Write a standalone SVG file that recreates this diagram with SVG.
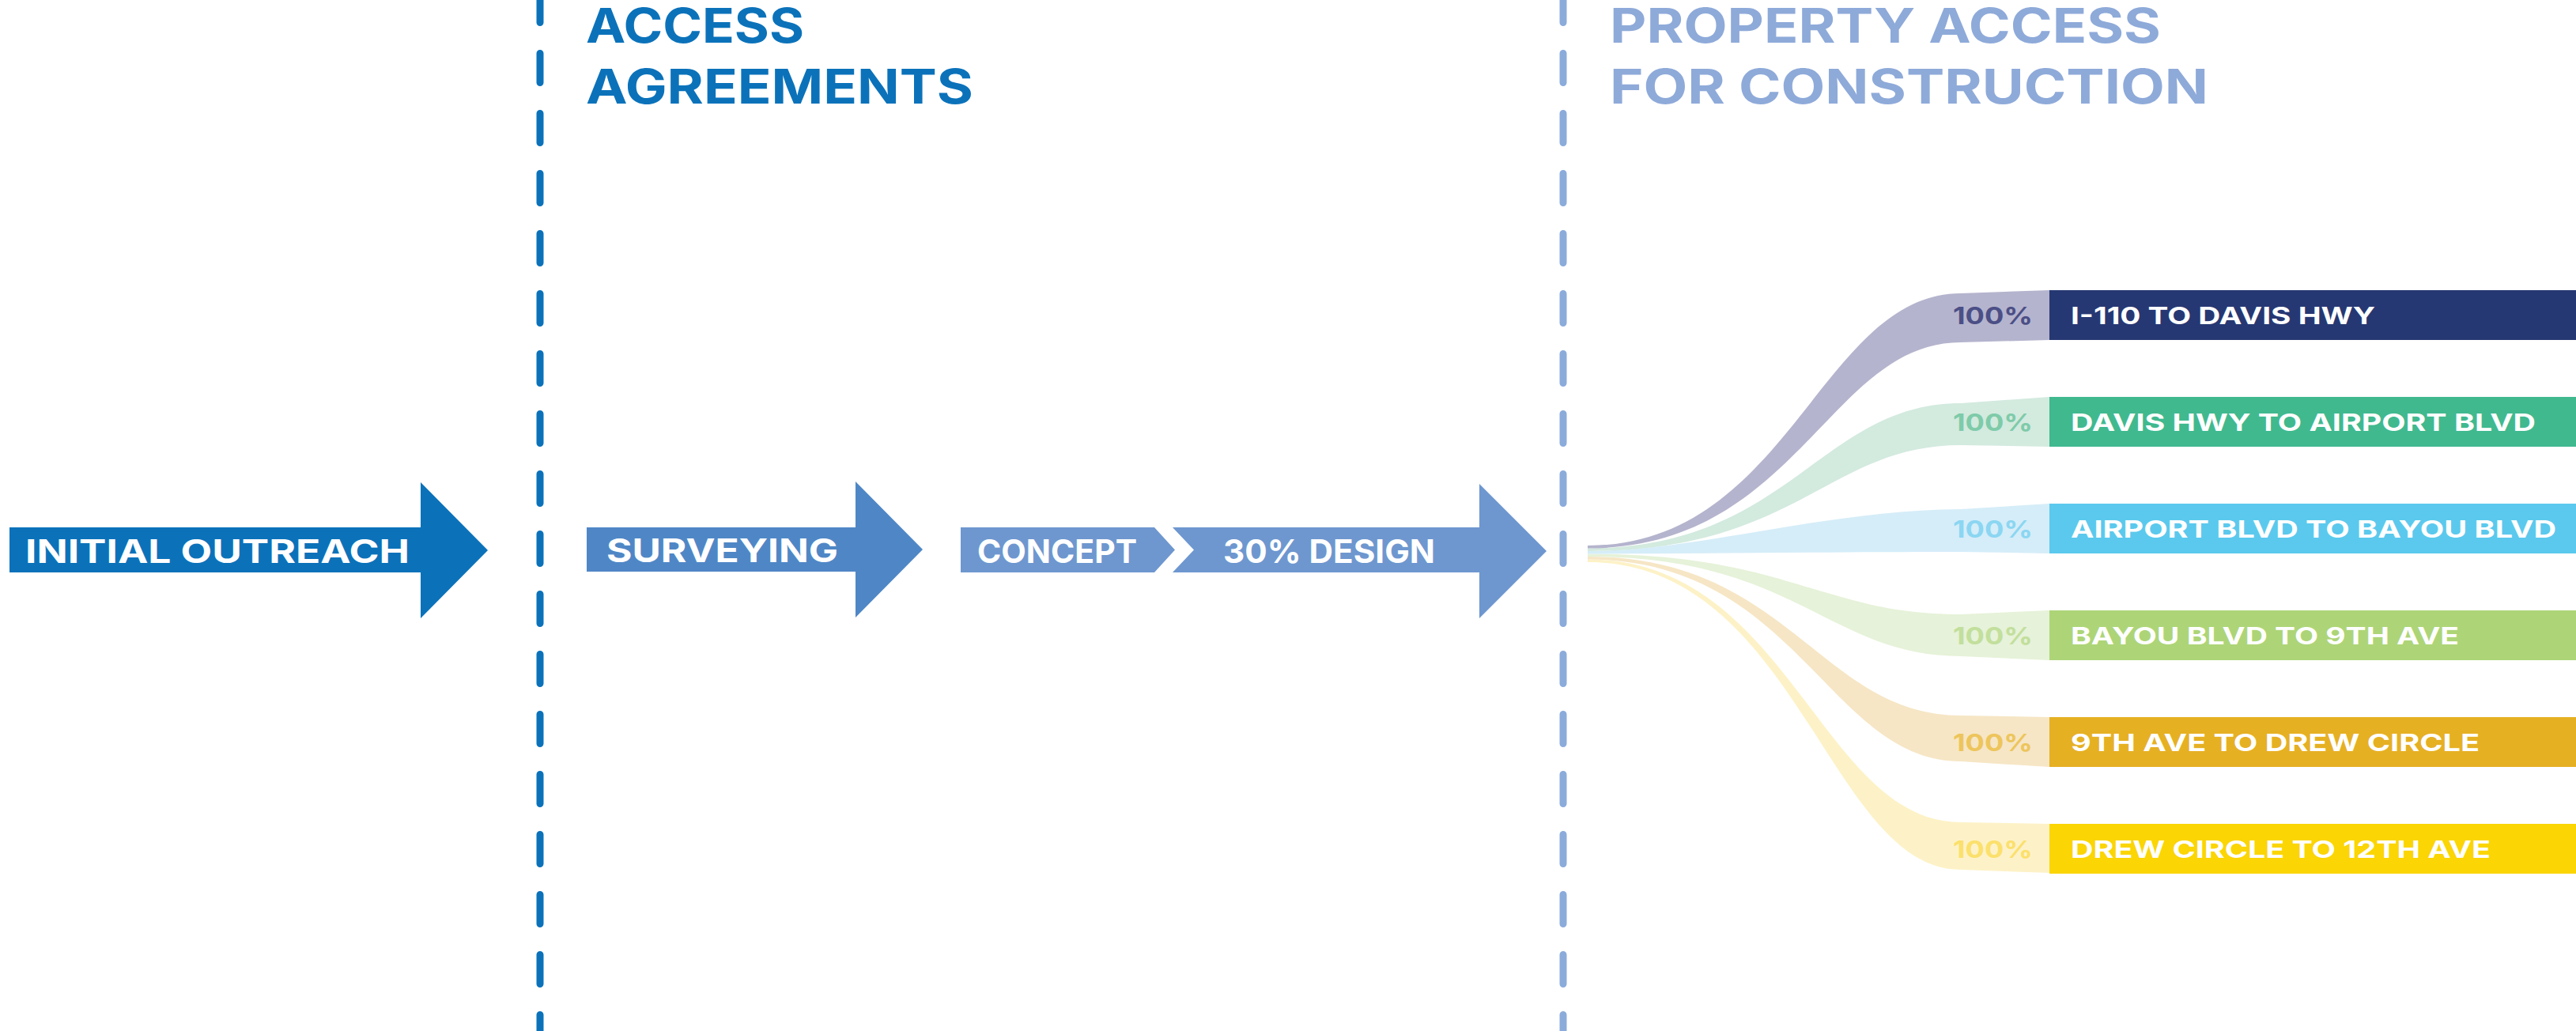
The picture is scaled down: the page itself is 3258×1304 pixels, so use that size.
<svg xmlns="http://www.w3.org/2000/svg" width="3258" height="1304" viewBox="0 0 3258 1304">
<style>
text{font-family:Inter,"Open Sans","Liberation Sans",sans-serif;font-weight:700}
.lbl{fill:#ffffff;font-size:41px}
.ttl{font-size:60px}
.bar{fill:#ffffff;font-size:30px}
.pct{font-size:30px}
.dash{fill:none;stroke-width:9;stroke-linecap:round;stroke-dasharray:37 39}
</style>
<rect width="3258" height="1304" fill="#ffffff"/>
<g id="dividers">
<line class="dash" x1="683" y1="-8.5" x2="683" y2="1320" stroke="#0b72ba"/>
<line class="dash" x1="1977" y1="-8.5" x2="1977" y2="1320" stroke="#8babdb"/>
</g>
<g id="title-access">
<text class="ttl" x="741" y="54" fill="#0b72ba" textLength="276" lengthAdjust="spacingAndGlyphs">ACCESS</text>
<text class="ttl" x="741" y="130.5" fill="#0b72ba" textLength="490" lengthAdjust="spacingAndGlyphs">AGREEMENTS</text>
</g>
<g id="title-property">
<text class="ttl" x="2036" y="54" fill="#8eaad9" textLength="697" lengthAdjust="spacingAndGlyphs">PROPERTY ACCESS</text>
<text class="ttl" x="2036" y="130.5" fill="#8eaad9" textLength="757" lengthAdjust="spacingAndGlyphs">FOR CONSTRUCTION</text>
</g>
<g id="initial-outreach">
<polygon points="12,667 532,667 532,610 617,696 532,782 532,724 12,724" fill="#0b72ba"/>
<text class="lbl" x="32" y="712" textLength="486" lengthAdjust="spacingAndGlyphs">INITIAL OUTREACH</text>
</g>
<g id="surveying">
<polygon points="742,667 1082,667 1082,609 1167,695 1082,781 1082,723 742,723" fill="#4f87c6"/>
<text class="lbl" x="767" y="711" textLength="293" lengthAdjust="spacingAndGlyphs">SURVEYING</text>
</g>
<g id="concept">
<polygon points="1215,667 1460,667 1486,695.5 1460,724 1215,724" fill="#6e97cf"/>
<text class="lbl" x="1236" y="712" textLength="202" lengthAdjust="spacingAndGlyphs">CONCEPT</text>
</g>
<g id="design30">
<polygon points="1483,667 1871,667 1871,612 1956,697 1871,782 1871,724 1483,724 1510,695.5" fill="#6e97cf"/>
<text class="lbl" x="1547" y="712" textLength="268" lengthAdjust="spacingAndGlyphs">30% DESIGN</text>
</g>
<g id="connectors">
<path d="M2008 707.5 C2263 707.5 2303 1040 2480 1040 L2592 1042 L2592 1104 L2480 1100 C2313 1100 2273 711 2008 711 Z" fill="#fdf2c7"/>
<path d="M2008 704 C2263 704 2303 905 2480 905 L2592 907 L2592 970 L2480 963 C2313 963 2273 707.5 2008 707.5 Z" fill="#f6e6c5"/>
<path d="M2008 700.5 C2263 700.5 2303 777 2480 777 L2592 772 L2592 835 L2480 830 C2313 830 2273 704 2008 704 Z" fill="#e6f2d9"/>
<path d="M2008 697 C2150 697 2300 646 2480 644 L2592 637 L2592 700 L2480 698 C2300 698 2150 700.5 2008 700.5 Z" fill="#d5edf8"/>
<path d="M2008 693.5 C2263 693.5 2303 510 2480 510 L2592 502 L2592 565 L2480 563 C2313 563 2273 697 2008 697 Z" fill="#d3eadf"/>
<path d="M2008 690 C2263 690 2303 371 2480 371 L2592 367 L2592 430 L2480 433 C2313 433 2273 693.5 2008 693.5 Z" fill="#b5b4ce"/>
</g>
<g id="seg1">
<rect x="2592" y="367" width="666" height="63" fill="#263873"/>
<text class="pct" x="2470" y="410" fill="#4b4f86" textLength="101" lengthAdjust="spacingAndGlyphs">100%</text>
<text class="bar" x="2619" y="410" textLength="385" lengthAdjust="spacingAndGlyphs">I-110 TO DAVIS HWY</text>
</g>
<g id="seg2">
<rect x="2592" y="502" width="666" height="63" fill="#40b98f"/>
<text class="pct" x="2470" y="545" fill="#7ecba9" textLength="101" lengthAdjust="spacingAndGlyphs">100%</text>
<text class="bar" x="2619" y="545" textLength="588" lengthAdjust="spacingAndGlyphs">DAVIS HWY TO AIRPORT BLVD</text>
</g>
<g id="seg3">
<rect x="2592" y="637" width="666" height="63" fill="#5bc9ed"/>
<text class="pct" x="2470" y="680" fill="#8bd6f2" textLength="101" lengthAdjust="spacingAndGlyphs">100%</text>
<text class="bar" x="2619" y="680" textLength="614" lengthAdjust="spacingAndGlyphs">AIRPORT BLVD TO BAYOU BLVD</text>
</g>
<g id="seg4">
<rect x="2592" y="772" width="666" height="63" fill="#add577"/>
<text class="pct" x="2470" y="815" fill="#c2df9c" textLength="101" lengthAdjust="spacingAndGlyphs">100%</text>
<text class="bar" x="2619" y="815" textLength="491" lengthAdjust="spacingAndGlyphs">BAYOU BLVD TO 9TH AVE</text>
</g>
<g id="seg5">
<rect x="2592" y="907" width="666" height="63" fill="#e6b023"/>
<text class="pct" x="2470" y="950" fill="#edc55c" textLength="101" lengthAdjust="spacingAndGlyphs">100%</text>
<text class="bar" x="2619" y="950" textLength="517" lengthAdjust="spacingAndGlyphs">9TH AVE TO DREW CIRCLE</text>
</g>
<g id="seg6">
<rect x="2592" y="1042" width="666" height="63" fill="#fbd504"/>
<text class="pct" x="2470" y="1085" fill="#fbe06c" textLength="101" lengthAdjust="spacingAndGlyphs">100%</text>
<text class="bar" x="2619" y="1085" textLength="531" lengthAdjust="spacingAndGlyphs">DREW CIRCLE TO 12TH AVE</text>
</g>
</svg>
